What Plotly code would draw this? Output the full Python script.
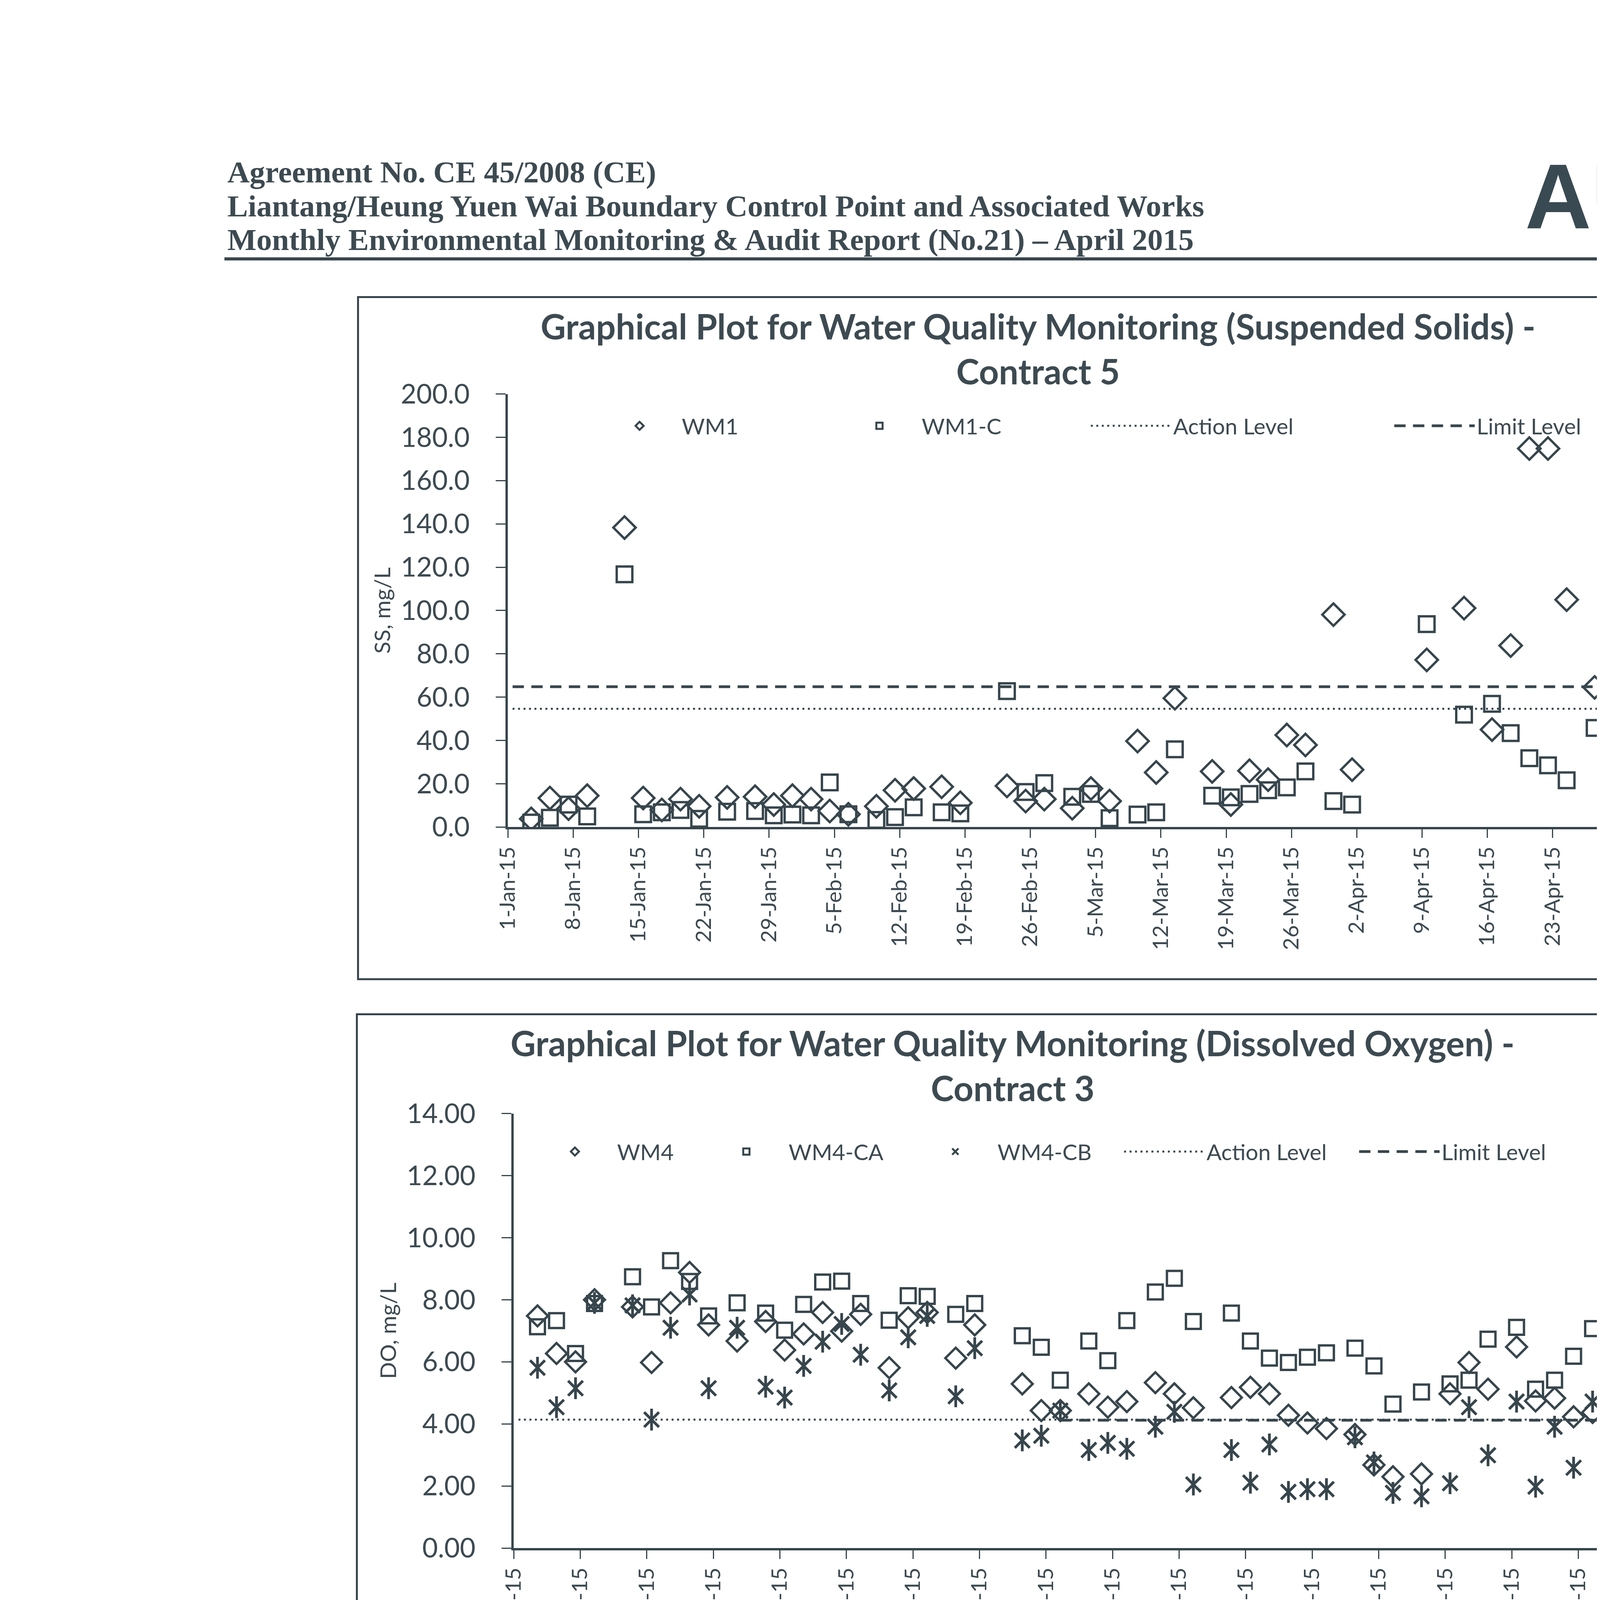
import pandas as pd
import plotly.graph_objects as go

W, H = 4964, 7020
TXT = "#3d4a51"
LN = "#37454c"

# ---------------- DATA ----------------
ss_dates = ["2015-01-03", "2015-01-05", "2015-01-07", "2015-01-09", "2015-01-13", "2015-01-15",
            "2015-01-17", "2015-01-19", "2015-01-21", "2015-01-24", "2015-01-27", "2015-01-29",
            "2015-01-31", "2015-02-02", "2015-02-04", "2015-02-06", "2015-02-09", "2015-02-11",
            "2015-02-13", "2015-02-16", "2015-02-18", "2015-02-23", "2015-02-25", "2015-02-27",
            "2015-03-02", "2015-03-04", "2015-03-06", "2015-03-09", "2015-03-11", "2015-03-13",
            "2015-03-17", "2015-03-19", "2015-03-21", "2015-03-23", "2015-03-25", "2015-03-27",
            "2015-03-30", "2015-04-01", "2015-04-09", "2015-04-13", "2015-04-16", "2015-04-18",
            "2015-04-20", "2015-04-22", "2015-04-24", "2015-04-27", "2015-04-29"]
ss_wm1 = [3.8, 13.4, 8.5, 14.5, 138.3, 13.4, 7.9, 12.9, 9.6, 13.7, 14.0, 10.4,
          14.5, 12.9, 7.4, 5.9, 9.6, 17.0, 17.8, 18.6, 11.2, 19.0, 12.0, 12.9,
          8.7, 17.8, 12.0, 39.7, 25.2, 59.5, 25.7, 10.4, 26.0, 21.9, 42.5, 37.9,
          98.1, 26.5, 77.2, 101.1, 45.0, 83.8, 174.8, 174.8, 105.0, 64.5, 17.5]
ss_wm1c = [2.1, 4.3, 10.4, 4.9, 116.7, 5.9, 6.8, 7.9, 3.8, 7.1, 7.4, 5.4,
           5.8, 5.4, 20.6, 5.9, 3.3, 4.6, 9.1, 6.8, 6.3, 62.8, 16.2, 20.3,
           14.0, 15.3, 4.1, 5.8, 6.8, 35.9, 14.5, 13.7, 15.3, 17.0, 18.3, 25.7,
           12.0, 10.4, 93.7, 51.9, 56.9, 43.4, 31.8, 28.5, 21.6, 45.8, 24.9]
ss_action = 54.6
ss_limit = 64.8
ss_level_dates = ["2015-01-01", "2015-04-29"]

do_dates = ["2015-01-03", "2015-01-05", "2015-01-07", "2015-01-09", "2015-01-13", "2015-01-15",
            "2015-01-17", "2015-01-19", "2015-01-21", "2015-01-24", "2015-01-27", "2015-01-29",
            "2015-01-31", "2015-02-02", "2015-02-04", "2015-02-06", "2015-02-09", "2015-02-11",
            "2015-02-13", "2015-02-16", "2015-02-18", "2015-02-23", "2015-02-25", "2015-02-27",
            "2015-03-02", "2015-03-04", "2015-03-06", "2015-03-09", "2015-03-11", "2015-03-13",
            "2015-03-17", "2015-03-19", "2015-03-21", "2015-03-23", "2015-03-25", "2015-03-27",
            "2015-03-30", "2015-04-01", "2015-04-03", "2015-04-06", "2015-04-09", "2015-04-11",
            "2015-04-13", "2015-04-16", "2015-04-18", "2015-04-20", "2015-04-22", "2015-04-24",
            "2015-04-27", "2015-04-29"]
do_wm4 = [7.48, 6.27, 6.00, 8.00, 7.77, 5.98, 7.90, 8.88, 7.19, 6.67, 7.30, 6.38,
          6.90, 7.59, 6.99, 7.53, 5.81, 7.42, 7.59, 6.12, 7.19, 5.29, 4.43, 4.43,
          4.97, 4.54, 4.72, 5.33, 4.97, 4.52, 4.85, 5.18, 4.97, 4.28, 4.03, 3.85,
          3.66, 2.68, 2.30, 2.39, 4.97, 5.98, 5.12, 6.48, 4.74, 4.83, 4.23, 4.37,
          3.43, 3.74]
do_wm4ca = [7.13, 7.33, 6.27, 7.88, 8.74, 7.77, 9.26, 8.59, 7.48, 7.90, 7.57, 7.02,
            7.85, 8.57, 8.60, 7.88, 7.34, 8.13, 8.11, 7.53, 7.88, 6.84, 6.47, 5.41,
            6.67, 6.04, 7.33, 8.25, 8.69, 7.30, 7.57, 6.67, 6.12, 5.98, 6.15, 6.29,
            6.44, 5.87, 4.64, 5.03, 5.29, 5.41, 6.73, 7.11, 5.12, 5.41, 6.18, 7.07,
            3.93, 3.22]
do_wm4cb = [5.81, 4.54, 5.15, 7.90, 7.82, 4.14, 7.10, 8.17, 5.15, 7.10, 5.20, 4.85,
            5.87, 6.65, 7.22, 6.23, 5.08, 6.79, 7.48, 4.89, 6.44, 3.47, 3.62, 4.43,
            3.16, 3.39, 3.20, 3.91, 4.39, 2.05, 3.16, 2.11, 3.34, 1.81, 1.90, 1.90,
            3.57, 2.76, 1.78, 1.67, 2.09, 4.54, 2.99, 4.72, 1.98, 3.91, 2.59, 4.72,
            1.21, 1.15]
do_action = 4.14
do_limit = 4.12
do_action_dates = ["2015-01-01", "2015-04-29"]
do_limit_dates = ["2015-02-27", "2015-04-29"]

tb_dates = do_dates
tb_wm4_dates = []
tb_wm4 = []
tb_wm4ca = [None, 8.3, 5.1, 4.5, 9.15, 2.87, 17.3, 33.5, 33.5, 2.72, 14.0, 11.4,
            8.65, 13.6, 10.0, 4.5, 4.5, 10.7, 12.1, 6.58, 11.6, 4.2, 9.8, 9.6,
            11.9, 12.4, 9.9, 25.7, 29.4, 4.6, 15.6, 12.8, 25.7, 20.2, 16.6, 12.5,
            32.9, 6.1, 6.1, 4.35, 7.6, 14.0, 4.9, 6.1, 5.8, 3.6, 4.85, 3.1,
            5.6, 4.85]
tb_wm4cb = [9.55, 7.32, 7.67, 7.47, 20.0, 6.18, 25.9, 26.8, 10.5, 5.84, 15.1, 10.3,
            13.1, 17.5, 12.4, 7.0, 8.0, 10.5, 14.9, 9.3, 17.6, 6.18, 12.5, 13.3,
            17.4, 18.1, 12.3, 24.4, 20.1, 8.6, 23.0, 21.7, 35.3, 21.2, 11.0, 5.24,
            24.8, 6.8, 6.18, 5.6, 10.1, 18.0, 7.9, 6.7, 9.0, 7.3, 7.3, 10.6,
            5.8, 6.9]
tb_action = 35.3
tb_limit = 38.6
tb_action_dates = ["2015-01-01", "2015-04-29"]
tb_limit_dates = ["2015-02-27", "2015-04-29"]

x_range = ["2015-01-01", "2015-05-01"]
week_ms = 7 * 86400000


def mid(dates):
    # Excel date axis places each day's value in the middle of the day
    return pd.to_datetime(pd.Series(dates, dtype="object")) + pd.Timedelta(hours=12)


def fx(p):
    return p / W


def fy(p):
    return 1 - p / H


fig = go.Figure()

ACTION_STYLE = dict(color=LN, width=5, dash="5px,9px")
LIMIT_STYLE = dict(color=LN, width=7, dash="29px,19px")
NB = "\u00a0"


def add_points(x, y, name, symbol, size, xa, ya, legend, show=True, lw=6):
    fig.add_trace(go.Scatter(
        x=mid(x), y=y, name=name, mode="markers", xaxis=xa, yaxis=ya,
        legend=legend, showlegend=show,
        marker=dict(symbol=symbol, size=size, color=LN,
                    line=dict(color=LN, width=lw))))


def add_star(x, y, name, size, xa, ya, legend):
    add_points(x, y, name, "x-thin", size, xa, ya, legend, True, 7)
    add_points(x, y, name, "line-ns", size * 1.05, xa, ya, legend, False, 7)


def add_level(x, val, name, style, xa, ya, legend):
    fig.add_trace(go.Scatter(
        x=mid(x), y=[val] * len(x), name=name, mode="lines", xaxis=xa, yaxis=ya,
        legend=legend, line=style))


# Chart 1 - Suspended Solids
add_points(ss_dates, ss_wm1, "WM1" + NB * 17, "diamond-open", 44, "x", "y", "legend")
add_points(ss_dates, ss_wm1c, "WM1-C" + NB * 15, "square-open", 40, "x", "y", "legend")
add_level(ss_level_dates, ss_action, "Action Level" + NB * 17, ACTION_STYLE, "x", "y", "legend")
add_level(ss_level_dates, ss_limit, "Limit Level", LIMIT_STYLE, "x", "y", "legend")

# Chart 2 - Dissolved Oxygen
P2 = NB * 5
add_points(do_dates, do_wm4, "WM4" + P2, "diamond-open", 41, "x2", "y2", "legend2")
add_points(do_dates, do_wm4ca, "WM4-CA" + P2, "square-open", 38, "x2", "y2", "legend2")
add_star(do_dates, do_wm4cb, "WM4-CB" + P2, 38, "x2", "y2", "legend2")
add_level(do_action_dates, do_action, "Action Level" + P2, ACTION_STYLE, "x2", "y2", "legend2")
add_level(do_limit_dates, do_limit, "Limit Level", LIMIT_STYLE, "x2", "y2", "legend2")

# Chart 3 - Turbidity
add_points(tb_wm4_dates, tb_wm4, "WM4" + P2, "diamond-open", 41, "x3", "y3", "legend3")
add_points(tb_dates, tb_wm4ca, "WM4-CA" + P2, "square-open", 39, "x3", "y3", "legend3")
add_star(tb_dates, tb_wm4cb, "WM4-CB" + P2, 37, "x3", "y3", "legend3")
add_level(tb_action_dates, tb_action, "Action Level" + P2, ACTION_STYLE, "x3", "y3", "legend3")
add_level(tb_limit_dates, tb_limit, "Limit Level", LIMIT_STYLE, "x3", "y3", "legend3")


def xaxis(x0, x1, anchor):
    return dict(domain=[fx(x0), fx(x1)], anchor=anchor, type="date", range=x_range,
                tick0="2015-01-01", dtick=week_ms, tickformat="%-d-%b-%y", tickangle=-90,
                ticks="outside", ticklen=22, tickwidth=3, tickcolor=LN,
                ticklabelstandoff=0,
                showline=True, linewidth=6, linecolor=LN, showgrid=False, zeroline=False,
                tickfont=dict(family="Lato", size=55, color=TXT))


def yaxis(y0, y1, anchor, rng, dtick, fmt, title):
    return dict(domain=[fy(y1), fy(y0)], anchor=anchor, range=rng, dtick=dtick,
                tickformat=fmt, ticks="outside", ticklen=25, tickwidth=3, tickcolor=LN,
                ticklabelstandoff=53,
                showline=True, linewidth=6, linecolor=LN, showgrid=False, zeroline=False,
                tickfont=dict(family="Lato", size=69, color=TXT),
                title=dict(text=title, standoff=10, font=dict(family="Lato", size=57, color=TXT)))


def legend(x, y):
    return dict(orientation="h", x=fx(x), y=fy(y), xanchor="left", yanchor="middle",
                itemwidth=206, bgcolor="rgba(0,0,0,0)", borderwidth=0,
                font=dict(family="Lato", size=57, color=TXT))


shapes = []
for (x0, y0, x1, y1) in [(880, 717, 4347, 2484), (877, 2575, 4353, 4343), (880, 4432, 4357, 6195)]:
    shapes.append(dict(type="rect", xref="paper", yref="paper", x0=fx(x0), x1=fx(x1),
                       y0=fy(y1), y1=fy(y0), line=dict(color=LN, width=5)))
shapes.append(dict(type="line", xref="paper", yref="paper", x0=fx(535), x1=fx(4585),
                   y0=fy(618), y1=fy(618), line=dict(color=LN, width=8)))
shapes.append(dict(type="line", xref="paper", yref="paper", x0=fx(643), x1=fx(4605),
                   y0=fy(6642), y1=fy(6640), line=dict(color=LN, width=6)))


def ann(text, x, y, size, family="Lato", xanchor="center", bold=False, color=TXT, angle=0):
    return dict(text=text, x=fx(x), y=fy(y), xref="paper", yref="paper", showarrow=False,
                xanchor=xanchor, yanchor="middle", textangle=angle,
                font=dict(family=family, size=size, color=color,
                          weight="bold" if bold else "normal"))


annotations = [
    ann("Agreement No. CE 45/2008 (CE)", 541, 393, 79, "Liberation Serif", "left", True),
    ann("Liantang/Heung Yuen Wai Boundary Control Point and Associated Works", 541, 481, 79,
        "Liberation Serif", "left", True),
    ann("Monthly Environmental Monitoring &amp; Audit Report (No.21) – April 2015", 541, 568, 79,
        "Liberation Serif", "left", True),
    ann("AU<span style='color:#a9adac'>E</span>S", 4222, 456, 235, "Liberation Sans", "center",
        True, "#3a4a52"),
    ann("Z:\\Jobs\\2013\\TCS00670(CV201303)\\600\\EM&amp;A Report\\Monthly EM&amp;A Report\\21st (April 2015)\\R0369v2.docx",
        651, 6700, 64, "Liberation Serif", "left"),
    ann("Graphical Plot for Water Quality Monitoring (Suspended Solids) -", 2636, 792, 89, bold=True),
    ann("Contract 5", 2636, 908, 89, bold=True),
    ann("Graphical Plot for Water Quality Monitoring (Dissolved Oxygen) -", 2570, 2649, 89, bold=True),
    ann("Contract 3", 2570, 2765, 89, bold=True),
    ann("Graphical Plot for Water Quality Monitoring (Turbidity)\u00a0 - Contract 3", 2712, 4505, 89, bold=True),
    ann("Date", 4167, 2073, 71, xanchor="left"),
    ann("Date", 4175, 3930, 71, xanchor="left"),
    ann("Date", 4182, 5783, 71, xanchor="left"),
]

fig.update_layout(
    width=W, height=H, margin=dict(l=0, r=0, t=0, b=0),
    paper_bgcolor="white", plot_bgcolor="white",
    xaxis=xaxis(1267, 4157, "y"),
    yaxis=yaxis(968, 2090, "x", [0, 200], 20, ".1f", "SS, mg/L"),
    xaxis2=xaxis(1282, 4227, "y2"),
    yaxis2=yaxis(2832, 3958, "x2", [0, 14], 2, ".2f", "DO, mg/L"),
    xaxis3=xaxis(1274, 4148, "y3"),
    yaxis3=yaxis(4718, 5840, "x3", [0, 60], 10, ".1f", "Turbidity, NTU"),
    legend=legend(1498, 1051),
    legend2=legend(1331, 2931),
    legend3=legend(1312, 4818),
    shapes=shapes,
    annotations=annotations,
    showlegend=True,
)

fig.write_html("out.html")
